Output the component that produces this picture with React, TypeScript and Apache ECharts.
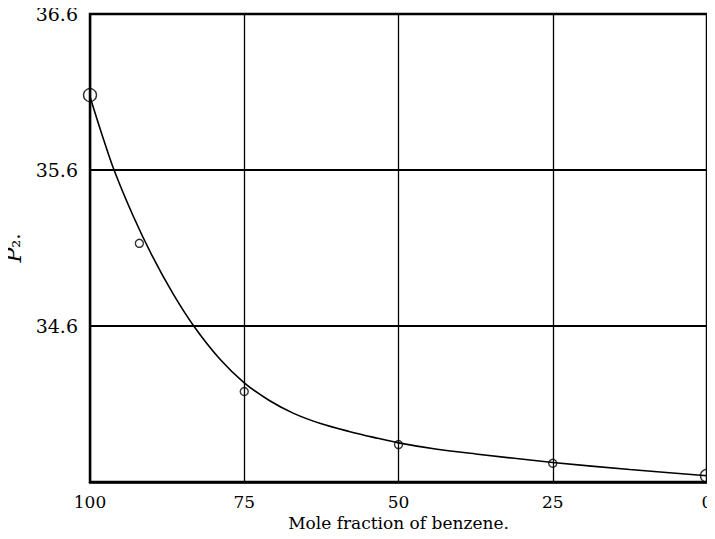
import React, { useEffect, useRef } from "react";
import * as echarts from "echarts";

// Measured points (mole fraction of benzene, P2)
const pointX = [100, 92, 75, 50, 25, 0];
const pointY = [36.08, 35.13, 34.18, 33.84, 33.72, 33.64];
const pointSize = [13, 8, 8, 8, 8, 13];

// Drawn smooth curve
const curveX = [100, 98, 96.1, 93, 90, 86.5, 83.1, 79, 75, 71, 67, 62.5, 58, 54, 50, 43.75, 37.5, 25, 12.5, 0];
const curveY = [36.07, 35.82, 35.6, 35.305, 35.056, 34.804, 34.595, 34.39, 34.236, 34.124, 34.04, 33.973, 33.924, 33.886, 33.851, 33.81, 33.78, 33.725, 33.68, 33.64];

const xTicks = [100, 75, 50, 25, 0];
const yTicks = [34.6, 35.6, 36.6];

const FONT = "DejaVu Serif";

export default function App() {
  const ref = useRef<HTMLDivElement>(null);
  useEffect(() => {
    if (!ref.current) return;
    const chart = echarts.init(ref.current, undefined, { renderer: "svg" });
    chart.setOption({
      animation: false,
      backgroundColor: "#fff",
      grid: {
        left: 90,
        right: 8,
        top: 14,
        bottom: 57,
        containLabel: false,
        outerBoundsMode: "none",
        show: true,
        borderColor: "#000",
        borderWidth: 2.5,
        backgroundColor: "transparent",
      },
      xAxis: {
        type: "value",
        inverse: true,
        min: 0,
        max: 100,
        interval: 25,
        name: "Mole fraction of benzene.",
        nameLocation: "middle",
        nameGap: 30,
        nameTextStyle: { fontFamily: FONT, fontSize: 17, color: "#000" },
        axisLine: { show: true, lineStyle: { color: "#000", width: 2.5 } },
        axisTick: { show: false },
        axisLabel: {
          fontFamily: FONT,
          fontSize: 17,
          color: "#000",
          margin: 11,
          formatter: (v: number) => (xTicks.includes(v) ? String(v) : ""),
        },
        splitLine: { show: true, lineStyle: { color: "#000", width: 1.3 } },
      },
      yAxis: {
        type: "value",
        min: 33.6,
        max: 36.6,
        interval: 1,
        name: "{p|P}{s|₂.}",
        nameLocation: "middle",
        nameGap: 66,
        nameRotate: 90,
        nameTextStyle: {
          rich: {
            p: { fontFamily: FONT, fontStyle: "italic", fontSize: 22, color: "#000" },
            s: { fontFamily: FONT, fontSize: 20, color: "#000" },
          },
        },
        axisLine: { show: true, lineStyle: { color: "#000", width: 2.5 } },
        axisTick: { show: false },
        axisLabel: {
          fontFamily: FONT,
          fontSize: 19,
          color: "#000",
          margin: 12,
          padding: [6, 0, 0, 0],
          formatter: (v: number) => {
            const s = v.toFixed(1);
            return yTicks.map((t) => t.toFixed(1)).includes(s) ? s : "";
          },
        },
        splitLine: { show: true, lineStyle: { color: "#000", width: 2 } },
      },
      series: [
        {
          type: "line",
          data: curveX.map((x, i) => [x, curveY[i]]),
          smooth: 0.3,
          showSymbol: false,
          symbol: "none",
          lineStyle: { color: "#000", width: 1.6 },
          z: 3,
          silent: true,
        },
        {
          type: "scatter",
          data: pointX.map((x, i) => [x, pointY[i]]),
          symbol: "circle",
          symbolSize: (_v: any, p: any) => pointSize[p.dataIndex],
          itemStyle: { color: "rgba(0,0,0,0)", borderColor: "#000", borderWidth: 1.4 },
          clip: false,
          z: 4,
        },
      ],
    });
    return () => chart.dispose();
  }, []);
  return <div ref={ref} style={{ width: 715, height: 539, margin: -8 }} />;
}
